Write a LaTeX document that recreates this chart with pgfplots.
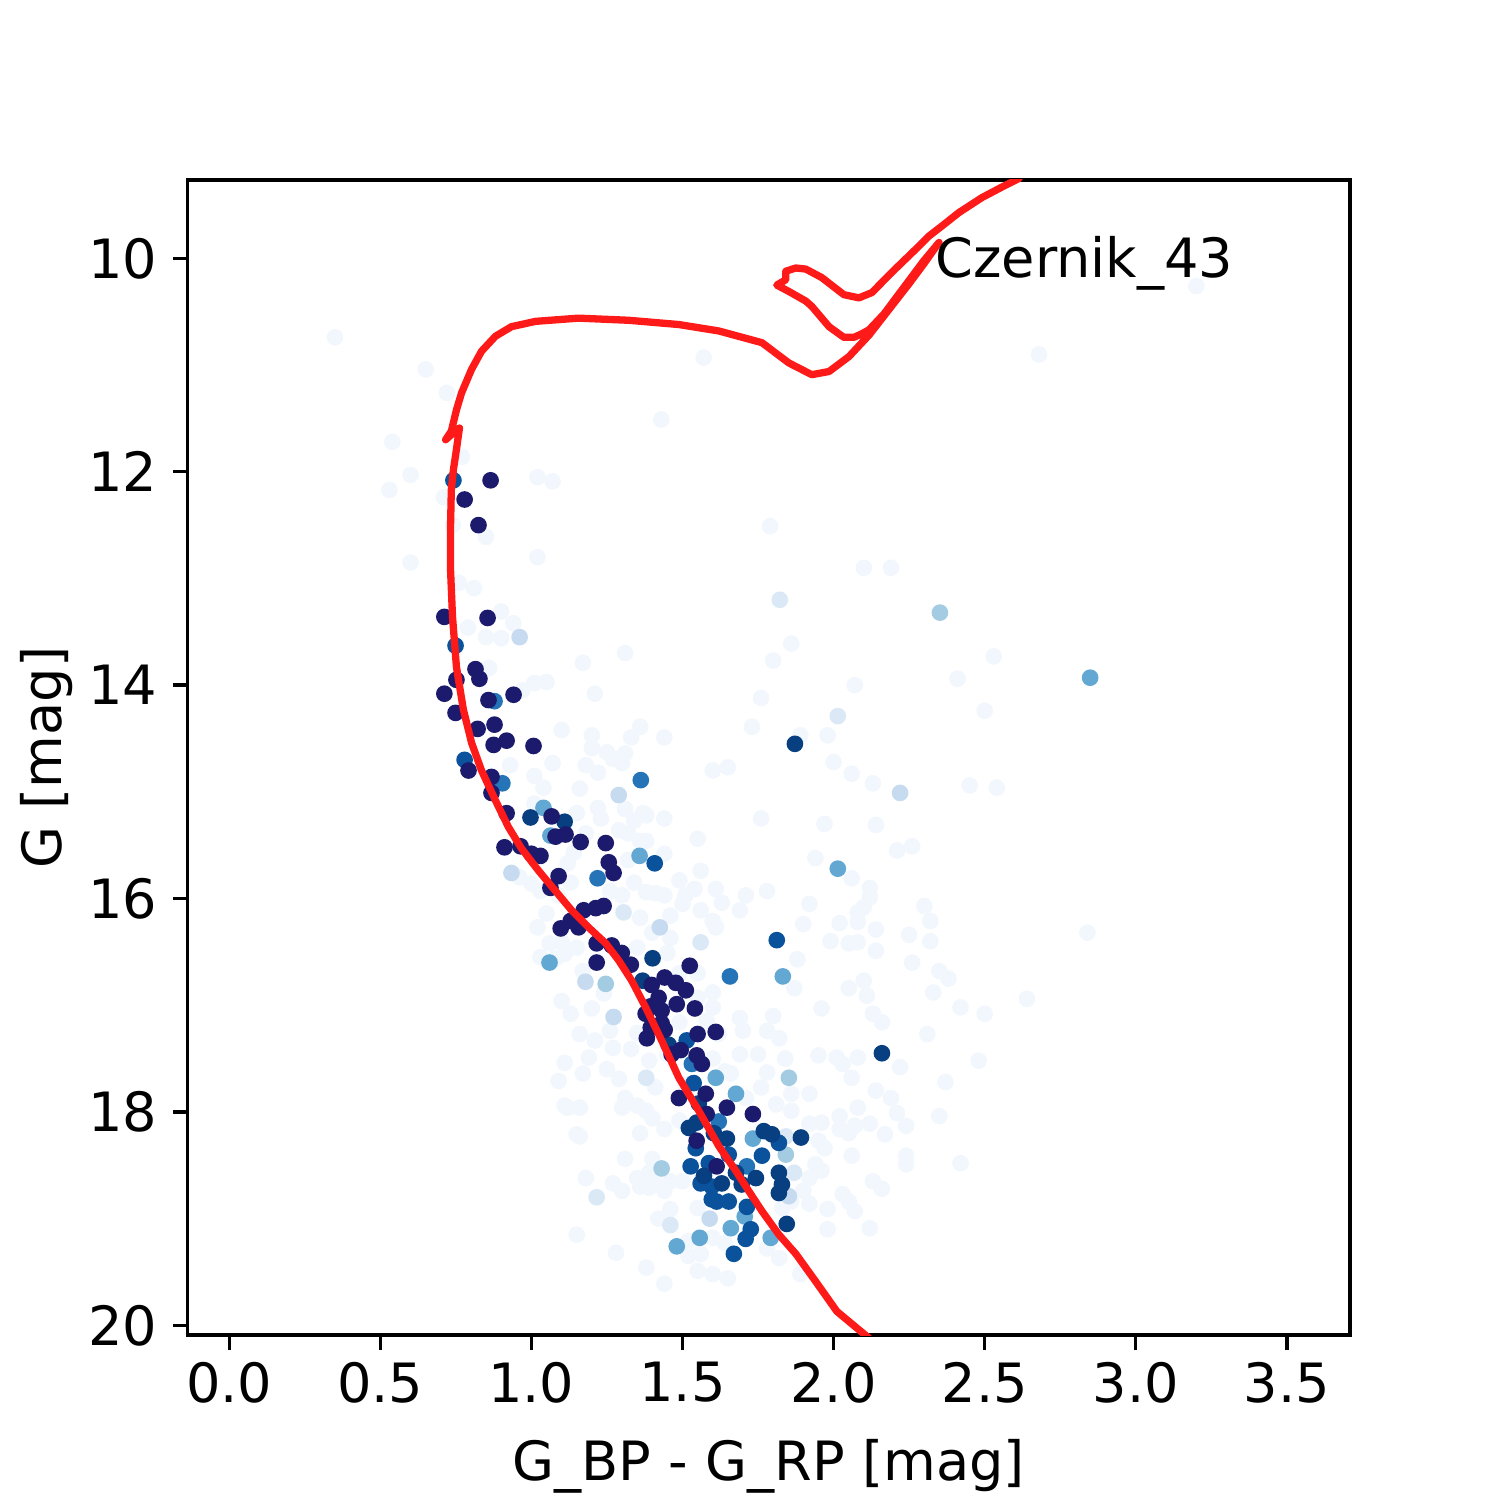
\documentclass[border=0pt]{standalone}
\usepackage{fontspec}
\setmainfont{DejaVu Sans}
\usepackage{pgfplots}
\pgfplotsset{compat=1.18}

% Blues-like membership colours, light to dark
\definecolor{vlight}{HTML}{F1F7FD}
\definecolor{pale}{HTML}{DBE9F6}
\definecolor{light}{HTML}{C6DBEF}
\definecolor{lmid}{HTML}{A3CCE3}
\definecolor{mid}{HTML}{62A8D3}
\definecolor{dmid}{HTML}{2474B7}
\definecolor{dark1}{HTML}{0A539C}
\definecolor{dark2}{HTML}{083F80}
\definecolor{navy}{HTML}{1B1A6C}
\definecolor{iso}{HTML}{FF1A1A}

\pgfplotsset{star/.style={only marks, mark=*, mark size=1.8pt, color=#1, mark options={draw=none, fill=#1}}}

\begin{document}
\fontsize{13}{15.6}\selectfont
\begin{tikzpicture}
\begin{axis}[
    name=ax,
    scale only axis,
    width=279pt, height=277.2pt,
    xmin=-0.138, xmax=3.709,
    ymin=9.265, ymax=20.091,
    y dir=reverse,
    clip marker paths=true,
    xtick={0,0.5,1,1.5,2,2.5,3,3.5},
    ytick={10,12,14,16,18,20},
    xticklabel={\pgfmathprintnumber[fixed,fixed zerofill,precision=1]{\tick}},
    /pgf/number format/assume math mode=true,
    xticklabel style={yshift=1.5pt},
    yticklabel style={xshift=0.8pt},
    tick align=outside,
    tick pos=left,
    major tick length=3.5pt,
    every tick/.style={black, line width=0.8pt},
    axis line style={line width=0.8pt},
]

% field stars (very low probability)
\addplot[star=vlight] coordinates {
(0.35,10.74) (0.65,11.04) (0.72,11.26) (0.54,11.72) (0.77,11.86) (0.53,12.17) (1.57,10.93) (1.43,11.51) (2.68,10.90) (3.20,10.26)
(0.60,12.03) (1.02,12.05) (1.07,12.09) (0.71,12.24) (0.74,12.50) (0.85,12.61) (1.02,12.80) (0.60,12.85) (0.76,13.04) (0.81,13.09)
(0.90,13.31) (0.94,13.42) (0.79,13.46) (0.85,13.55) (0.90,13.56) (0.86,13.84) (1.17,13.79) (1.31,13.70) (1.79,12.51) (1.86,13.61)
(1.80,13.77) (1.76,14.12) (1.73,14.39) (1.05,13.97) (1.01,13.98) (0.97,14.05) (1.21,14.08) (1.10,14.42) (1.20,14.47) (1.20,14.59)
(1.25,14.63) (1.27,14.69) (1.31,14.64) (1.30,14.73) (1.33,14.49) (1.36,14.39) (1.44,14.49) (1.18,14.75) (1.22,14.82) (1.60,14.80)
(1.65,14.77) (0.93,14.75) (1.01,14.85) (1.07,14.73) (1.04,14.96) (1.16,14.97) (1.22,15.15) (1.31,15.16) (1.37,15.20) (1.44,15.25)
(1.15,15.20) (1.01,15.11) (1.76,15.25) (1.55,15.44) (1.32,15.39) (1.36,15.46)
(2.10,12.90) (2.19,12.90) (2.53,13.73) (2.41,13.94) (2.07,14.00) (2.50,14.24) (1.98,14.47) (1.89,14.47) (2.00,14.72) (2.06,14.83)
(2.13,14.92) (2.45,14.94) (2.54,14.96) (1.97,15.30) (2.14,15.31) (1.94,15.62) (2.21,15.55) (2.26,15.51) (2.06,15.81) (2.12,15.90)
(2.12,15.99) (1.61,15.91) (1.71,15.97) (1.78,15.93) (1.63,16.04) (1.69,16.11) (1.92,16.05) (2.30,16.07) (2.32,16.21) (2.10,16.08)
(2.08,16.22) (2.02,16.23) (1.90,16.24) (2.14,16.29) (2.25,16.34) (2.32,16.40) (2.84,16.32) (1.99,16.40) (2.05,16.42) (2.08,16.41)
(2.14,16.49) (1.88,16.57) (2.26,16.60) (2.35,16.68) (2.38,16.75) (2.05,16.84) (2.10,16.77) (2.33,16.88) (1.87,16.84) (2.64,16.94)
(1.38,15.22) (1.44,15.58) (1.56,15.74) (1.49,15.83) (1.44,15.97) (1.51,15.97) (1.54,15.91) (2.08,16.13) (2.11,16.91) (1.96,17.03)
(2.16,17.16) (2.13,17.08) (1.80,17.10) (1.69,17.12) (1.70,17.24) (1.78,17.24) (1.82,17.31) (1.95,17.47) (2.01,17.49) (2.08,17.49)
(2.03,17.55) (2.06,17.68) (2.14,17.80) (2.19,17.87) (1.84,17.50) (1.78,17.63) (1.76,17.77) (1.86,17.83) (1.92,17.83) (1.81,17.93)
(1.86,17.99) (2.02,18.04) (2.08,17.96) (2.02,18.16) (2.12,18.11) (2.17,18.21) (1.95,18.27) (1.71,17.87) (1.66,17.64) (1.31,17.87)
(1.29,17.69) (1.25,17.60) (1.19,17.49) (1.21,17.33) (1.16,17.27) (1.13,17.08) (1.10,16.96) (1.11,17.54) (1.17,17.64) (1.16,17.96)
(1.12,17.96) (1.15,18.21) (1.27,17.40) (1.33,17.41) (1.35,17.26) (1.26,17.24) (1.20,17.03) (1.24,16.89) (1.11,16.52) (1.17,16.68)
(1.15,16.46) (1.02,16.27) (1.03,15.93) (1.09,15.97) (1.13,15.85) (0.96,15.80) (1.00,15.86) (1.05,16.14) (1.10,16.41) (1.03,16.55)
(1.08,16.56) (1.06,16.42) (1.30,15.97) (1.34,15.85) (1.38,15.94) (1.41,15.95) (1.26,15.93) (1.32,15.64) (1.38,15.46) (1.29,15.36)
(1.34,15.27) (1.23,15.25) (1.18,15.39) (1.14,15.57) (1.12,15.67) (1.50,16.05) (1.56,16.11) (1.61,16.27) (1.60,16.21) (1.46,16.16)
(1.36,16.18) (1.40,16.32) (1.46,16.37) (1.35,16.46) (1.45,16.51) (1.49,16.70) (1.55,16.70) (1.60,16.88) (1.55,16.93) (1.60,17.02)
(1.58,17.15) (1.62,17.27) (1.49,17.16) (1.45,17.46) (1.60,17.50) (1.64,17.62) (1.69,17.46) (1.75,17.46) (1.51,17.74) (1.39,17.52)
(1.41,17.77) (1.35,17.94) (1.40,18.06) (1.44,18.16) (1.49,18.08)
(1.11,17.94) (1.30,17.96) (1.38,17.99) (1.16,18.23) (1.36,18.20) (1.18,18.62) (1.31,18.44) (1.30,18.74) (1.27,18.67) (1.35,18.62)
(1.39,18.57) (1.41,18.67) (1.46,18.65) (1.39,18.71) (1.44,18.74) (1.50,18.65) (1.55,18.90) (1.46,18.91) (1.42,19.00) (1.52,19.21)
(1.60,19.18) (1.64,19.23) (1.52,19.35) (1.56,19.33) (1.15,19.15) (1.28,19.32) (1.38,19.46) (1.44,19.61) (1.55,19.49) (1.60,19.52)
(1.65,19.56) (1.82,19.37) (1.89,19.52) (1.78,19.28) (1.83,18.90) (1.86,18.84) (1.90,18.74) (1.92,18.86) (1.94,18.49) (1.92,18.62)
(1.96,18.55) (1.97,18.34) (1.92,18.11) (1.96,18.10) (2.05,18.20) (2.07,18.13) (2.21,18.01) (2.24,18.13) (2.35,18.04) (2.06,18.41)
(2.13,18.65) (2.16,18.72) (2.24,18.41) (2.24,18.49) (2.03,18.77) (2.05,18.84) (2.07,18.93) (1.98,18.91) (1.98,19.10) (2.12,19.09)
(1.40,18.44) (1.36,18.70) (2.42,17.02) (2.50,17.08) (2.42,18.48) (1.09,17.71) (2.48,17.52) (2.31,17.27) (2.37,17.72) (2.22,17.58)
};

\addplot[star=pale] coordinates {
(1.822,13.20) (2.014,14.29) (1.46,19.06) (1.305,16.13) (1.560,16.41) (1.216,18.80) (1.869,18.57) (1.38,17.68) (1.842,18.23)
};

\addplot[star=light] coordinates {
(0.961,13.55) (1.289,15.03) (0.934,15.76) (1.425,16.27) (1.179,16.78) (1.272,17.11) (1.852,18.79) (2.220,15.01) (1.59,19.00)
};

\addplot[star=lmid] coordinates {
(2.352,13.32) (1.246,16.80) (1.431,18.53) (1.842,18.40) (1.852,17.68)
};

\addplot[star=mid] coordinates {
(1.040,15.15) (1.063,15.41) (1.358,15.60) (2.014,15.72) (1.060,16.60) (1.832,16.73) (1.610,17.68) (1.677,17.83)
(1.733,18.25) (1.706,18.98) (1.660,19.09) (1.792,19.18) (1.557,19.18) (1.481,19.26) (2.849,13.93)
};

\addplot[star=dmid] coordinates {
(0.878,14.15) (0.904,14.92) (1.362,14.89) (1.219,15.81) (1.657,16.73) (1.531,17.55) (1.713,18.51) (1.620,18.09)
};

\addplot[star=dark1] coordinates {
(0.742,12.08) (0.749,13.63) (0.779,14.70) (1.408,15.67) (1.812,16.39) (1.514,17.33) (1.537,17.73) (1.819,18.29)
(1.544,18.34) (1.763,18.41) (1.653,18.40) (1.587,18.48) (1.527,18.51) (1.597,18.70) (1.560,18.67) (1.653,18.84)
(1.613,18.84) (1.597,18.82) (1.713,18.89) (1.726,19.10) (1.709,19.19) (1.670,19.33)
};

\addplot[star=dark2] coordinates {
(1.872,14.55) (2.160,17.45) (1.368,16.77) (1.401,16.56) (0.997,15.24) (1.110,15.28) (1.819,18.57) (1.743,18.62)
(1.819,18.76) (1.845,19.05) (1.521,18.15) (1.547,18.10) (1.604,18.20) (1.769,18.18) (1.796,18.21) (1.892,18.24)
(1.647,18.25) (1.677,18.57) (1.571,18.60) (1.630,18.67) (1.696,18.68) (1.829,18.68) (1.454,17.37) (1.554,17.92)
};

% probable members
\addplot[star=navy] coordinates {
(0.865,12.08) (0.779,12.26) (0.825,12.50) (0.712,13.36) (0.855,13.37) (0.815,13.85) (0.752,13.95) (0.828,13.94)
(0.712,14.08) (0.941,14.09) (0.858,14.14) (0.749,14.26) (0.878,14.37) (0.822,14.41) (0.918,14.52) (0.875,14.56)
(1.007,14.57) (0.792,14.80) (0.868,14.86) (0.868,15.01) (0.918,15.20) (1.067,15.23) (1.080,15.42) (1.113,15.40)
(1.163,15.47) (1.246,15.48) (0.911,15.52) (0.964,15.51) (1.030,15.60) (1.000,15.58) (1.090,15.79) (1.063,15.90)
(1.256,15.66) (1.272,15.76) (1.173,16.11) (1.213,16.09) (1.239,16.07) (1.130,16.21) (1.097,16.28) (1.156,16.27)
(1.216,16.42) (1.266,16.44) (1.299,16.51) (1.216,16.60) (1.329,16.62) (1.524,16.63) (1.398,16.81) (1.441,16.74)
(1.478,16.79) (1.511,16.86) (1.421,16.93) (1.481,16.99) (1.541,17.03) (1.395,17.01) (1.431,17.05) (1.378,17.08)
(1.431,17.17) (1.395,17.21) (1.441,17.23) (1.550,17.27) (1.610,17.25) (1.382,17.31) (1.494,17.42) (1.464,17.46)
(1.547,17.47) (1.564,17.55) (1.488,17.87) (1.577,17.83) (1.580,18.02) (1.733,18.02) (1.547,18.27) (1.647,17.96)
(1.613,18.51)
};

% isochrone
\addplot[no markers, color=iso, line width=1.75pt, line join=round, line cap=round] coordinates {
(2.117,20.12) (2.011,19.87) (1.941,19.59) (1.875,19.33) (1.819,19.15) (1.763,18.93) (1.719,18.74) (1.676,18.55)
(1.620,18.32) (1.554,17.99) (1.488,17.68) (1.431,17.33) (1.378,17.02) (1.332,16.77) (1.289,16.58) (1.246,16.42)
(1.189,16.27) (1.133,16.11) (1.080,15.93) (1.024,15.74) (0.967,15.53) (0.924,15.33) (0.881,15.08) (0.835,14.80)
(0.802,14.54) (0.775,14.23) (0.752,13.83) (0.739,13.36) (0.732,12.89) (0.732,12.57) (0.735,12.17) (0.742,11.98)
(0.752,11.79) (0.762,11.59) (0.732,11.66) (0.716,11.70) (0.735,11.62) (0.752,11.42) (0.769,11.26) (0.802,11.04)
(0.835,10.87) (0.881,10.73) (0.934,10.64) (1.014,10.59) (1.156,10.56) (1.322,10.58) (1.488,10.62) (1.620,10.68)
(1.763,10.79) (1.852,10.98) (1.928,11.09) (1.985,11.06) (2.051,10.92) (2.117,10.72) (2.183,10.48) (2.249,10.24)
(2.299,10.05) (2.349,9.85) (2.299,10.02) (2.233,10.27) (2.167,10.52) (2.117,10.67) (2.091,10.71) (2.067,10.74)
(2.034,10.74) (1.985,10.64) (1.928,10.45) (1.908,10.40) (1.852,10.31) (1.812,10.25) (1.842,10.20) (1.842,10.12)
(1.875,10.09) (1.908,10.10) (1.961,10.18) (2.034,10.34) (2.084,10.37) (2.127,10.32) (2.193,10.13) (2.266,9.93)
(2.316,9.79) (2.366,9.68) (2.415,9.57) (2.491,9.43) (2.558,9.33) (2.614,9.25)
};

\node[anchor=base west, inner sep=0pt] at (axis cs:2.335,10.18) {Czernik\_43};
\end{axis}
\node[anchor=base, inner sep=0pt] at ([yshift=-34.8pt]ax.south) {G\_BP - G\_RP [mag]};
\node[anchor=base, rotate=90, inner sep=0pt] at ([xshift=-30.3pt]ax.west) {G [mag]};
\path ([shift={(-45pt,-39.6pt)}]ax.south west) rectangle ([shift={(36pt,43.2pt)}]ax.north east);
\end{tikzpicture}
\end{document}
